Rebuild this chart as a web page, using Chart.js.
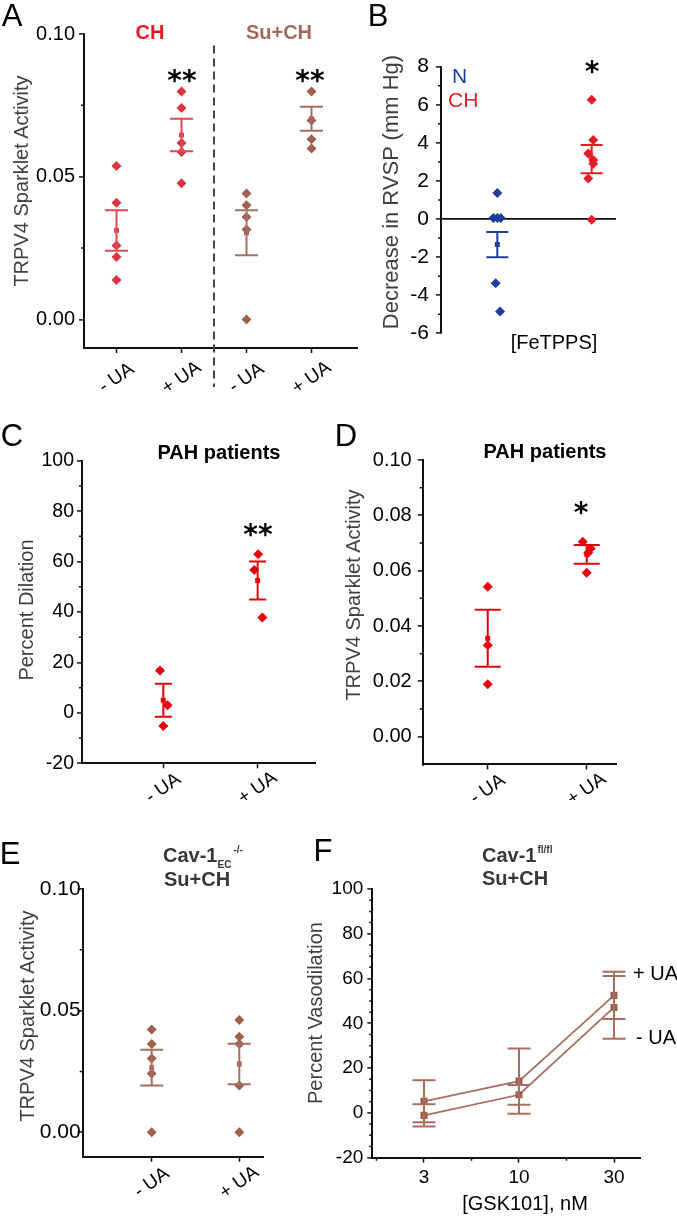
<!DOCTYPE html>
<html>
<head>
<meta charset="utf-8">
<script src="https://cdn.jsdelivr.net/npm/chart.js@4.4.1/dist/chart.umd.min.js"></script>
<style>
html, body { margin: 0; padding: 0; background: #fff; }
#fig { position: relative; width: 677px; height: 1219px; overflow: hidden; font-family: "Liberation Sans", Arial, sans-serif; color: #000; }
canvas { position: absolute; }
.t { position: absolute; white-space: nowrap; line-height: 1; transform: translate(-50%, -50%); }
.l { position: absolute; white-space: nowrap; line-height: 1; transform: translateY(-50%); }
.yt { position: absolute; white-space: nowrap; line-height: 1; transform: translate(-50%, -50%) rotate(-90deg); color: #404040; font-size: 20px; }
.letter { font-size: 31px; }
.star { font-family: "DejaVu Sans", sans-serif; font-weight: bold; font-size: 28px; }
.ttl { font-weight: bold; font-size: 20px; color: #383838; }
</style>
</head>
<body>
<div id="fig">
  <canvas id="panelA" width="362" height="395" style="left:0;top:0"></canvas>
  <canvas id="panelB" width="315" height="395" style="left:362px;top:0"></canvas>
  <canvas id="panelC" width="340" height="405" style="left:0;top:395px"></canvas>
  <canvas id="panelD" width="337" height="405" style="left:340px;top:395px"></canvas>
  <canvas id="panelE" width="320" height="419" style="left:0;top:800px"></canvas>
  <canvas id="panelF" width="357" height="419" style="left:320px;top:800px"></canvas>

  <div class="t letter" style="left:12px;top:15px">A</div>
  <div class="t letter" style="left:378px;top:15px">B</div>
  <div class="t letter" style="left:12px;top:435px">C</div>
  <div class="t letter" style="left:346px;top:435px">D</div>
  <div class="t letter" style="left:10px;top:853px">E</div>
  <div class="t letter" style="left:323px;top:850px">F</div>

  <div class="yt" style="left:21px;top:181px">TRPV4 Sparklet Activity</div>
  <div class="yt" style="left:391px;top:192px;font-size:22px">Decrease in RVSP (mm Hg)</div>
  <div class="yt" style="left:26px;top:610px">Percent Dilation</div>
  <div class="yt" style="left:353px;top:595px">TRPV4 Sparklet Activity</div>
  <div class="yt" style="left:27px;top:1016px">TRPV4 Sparklet Activity</div>
  <div class="yt" style="left:315px;top:1013px">Percent Vasodilation</div>

  <div class="t" style="left:150px;top:32px;font-weight:bold;font-size:20px;color:#e01b24">CH</div>
  <div class="t" style="left:279px;top:32px;font-weight:bold;font-size:20px;color:#a36a5c">Su+CH</div>
  <div class="t star" style="left:182px;top:81px">**</div>
  <div class="t star" style="left:310px;top:81px">**</div>

  <div class="l" style="left:452px;top:75px;font-size:21px;color:#1f3d9c">N</div>
  <div class="l" style="left:448px;top:99px;font-size:21px;color:#e51c24">CH</div>
  <div class="t star" style="left:592px;top:72px">*</div>
  <div class="t" style="left:554px;top:342px;font-size:20px">[FeTPPS]</div>

  <div class="t" style="left:219px;top:452px;font-weight:bold;font-size:20px">PAH patients</div>
  <div class="t star" style="left:258px;top:535px">**</div>
  <div class="t" style="left:545px;top:451px;font-weight:bold;font-size:20px">PAH patients</div>
  <div class="t star" style="left:581px;top:513px">*</div>

  <div class="l ttl" style="left:163px;top:855px">Cav-1<span style="font-size:10px;position:relative;top:6px">EC</span><span style="font-size:10px;position:relative;top:-9px;margin-left:2px">-/-</span></div>
  <div class="l ttl" style="left:164px;top:879px">Su+CH</div>
  <div class="l ttl" style="left:482px;top:855px">Cav-1<span style="font-size:10px;position:relative;top:-9px;margin-left:1px">fl/fl</span></div>
  <div class="l ttl" style="left:482px;top:878px">Su+CH</div>
  <div class="l" style="left:633px;top:973px;font-size:20px">+ UA</div>
  <div class="l" style="left:636px;top:1037px;font-size:20px">- UA</div>
  <div class="t" style="left:525px;top:1203px;font-size:20px">[GSK101], nM</div>
</div>

<script>
const fontFamily = '"Liberation Sans", Arial, sans-serif'
Chart.defaults.font.family = fontFamily

// A: TRPV4 sparklet activity, CH and Su+CH, -/+ UA
const aLabels = ['- UA', '+ UA', '- UA', '+ UA']
const aChMinusUA = [0.0538, 0.0409, 0.0259, 0.0219, 0.0138]
const aChPlusUA = [0.0799, 0.0741, 0.0618, 0.0587, 0.0477]
const aSuChMinusUA = [0.0441, 0.0400, 0.0359, 0.0315, 0.0]
const aSuChPlusUA = [0.0799, 0.0697, 0.0631, 0.0599]
const aMeans = [0.0312, 0.0646, 0.0304, 0.0703]
const aSems = [0.0071, 0.0057, 0.0079, 0.0042]
const aYTicks = [0, 0.05, 0.1]
const aYMinor = [0.025, 0.075]

// B: decrease in RVSP with FeTPPS
const bN = [1.37, 0.05, 0.05, 0.05, -3.37, -4.86]
const bNJitter = [0, -0.042, 0, 0.036, -0.017, 0.029]
const bCH = [6.27, 4.15, 3.44, 3.1, 2.9, 2.13, -0.04]
const bCHJitter = [0, 0.017, -0.036, 0.017, 0.017, -0.036, 0]
const bMeans = [-1.34, 3.15]
const bSems = [0.66, 0.74]
const bYTicks = [-6, -4, -2, 0, 2, 4, 6, 8]
const bYMinor = [-5, -3, -1, 1, 3, 5, 7]

// C: percent dilation, PAH patients
const cLabels = ['- UA', '+ UA']
const cMinusUA = [16.8, 3.0, -5.2]
const cMinusJitter = [-0.035, 0.045, 0]
const cPlusUA = [62.9, 56.7, 37.8]
const cPlusJitter = [0.006, -0.036, 0.05]
const cMeans = [5.0, 52.5]
const cSems = [6.5, 7.5]
const cYTicks = [-20, 0, 20, 40, 60, 80, 100]
const cYMinor = [-10, 10, 30, 50, 70, 90]

// D: TRPV4 sparklet activity, PAH patients
const dLabels = ['- UA', '+ UA']
const dMinusUA = [0.0542, 0.0331, 0.0190]
const dPlusUA = [0.0705, 0.0680, 0.0665, 0.0593]
const dPlusJitter = [-0.04, 0.04, 0.015, 0]
const dMeans = [0.0356, 0.0659]
const dSems = [0.0103, 0.0034]
const dYTicks = [0, 0.02, 0.04, 0.06, 0.08, 0.1]
const dYMinor = [0.01, 0.03, 0.05, 0.07, 0.09]

// E: Cav-1 EC-/- Su+CH
const eLabels = ['- UA', '+ UA']
const eMinusUA = [0.0423, 0.0363, 0.0303, 0.0242, 0.0]
const ePlusUA = [0.0462, 0.0393, 0.0363, 0.0193, 0.0]
const eMeans = [0.0266, 0.0281]
const eSems = [0.0073, 0.0083]
const eYTicks = [0, 0.05, 0.1]
const eYMinor = [0.025, 0.075]

// F: Cav-1 fl/fl Su+CH, GSK101 dose response
const fDoses = ['3', '10', '30']
const fPlusUA = [5.2, 14.2, 52.5]
const fPlusSem = [9.4, 14.6, 10.6]
const fMinusUA = [-1.1, 8.1, 47.1]
const fMinusSem = [5.0, 4.4, 14.0]
const fYTicks = [-20, 0, 20, 40, 60, 80, 100]
const fYMinor = [-15, -10, -5, 5, 10, 15, 25, 30, 35, 45, 50, 55, 65, 70, 75, 85, 90, 95]
const fXMinor = [-0.5, 0.5, 1.5]

const red = '#dc3540'
const redLine = '#dd4a52'
const brown = '#9e604f'
const brownLine = '#a86e60'
const blue = '#1f3d9c'
const brightRed = '#e51c24'
const pureRed = '#e6000e'
const axisColor = '#111'

const errorBars = {
    id: 'errorBars',
    afterDatasetsDraw(chart) {
        const ctx = chart.ctx
        const yScale = chart.scales.y
        chart.data.datasets.forEach((ds, i) => {
            if (!ds.sem) return
            const meta = chart.getDatasetMeta(i)
            const half = ds.capWidth / 2
            ctx.save()
            ctx.strokeStyle = ds.barColor
            ctx.lineWidth = 2
            meta.data.forEach((pt, j) => {
                const v = ds.data[j].y
                const top = yScale.getPixelForValue(v + ds.sem[j])
                const bottom = yScale.getPixelForValue(v - ds.sem[j])
                ctx.beginPath()
                ctx.moveTo(pt.x, top)
                ctx.lineTo(pt.x, bottom)
                ctx.moveTo(pt.x - half, top)
                ctx.lineTo(pt.x + half, top)
                ctx.moveTo(pt.x - half, bottom)
                ctx.lineTo(pt.x + half, bottom)
                ctx.stroke()
            })
            ctx.restore()
        })
    }
}

const minorTicks = {
    id: 'minorTicks',
    afterDraw(chart, args, opts) {
        const {ctx, chartArea, scales} = chart
        const ys = opts.y || []
        const xs = opts.x || []
        const len = opts.length || 3
        ctx.save()
        ctx.strokeStyle = axisColor
        ctx.lineWidth = 1.5
        ctx.beginPath()
        ys.forEach(v => {
            const py = scales.y.getPixelForValue(v)
            ctx.moveTo(chartArea.left, py)
            ctx.lineTo(chartArea.left - len, py)
        })
        xs.forEach(v => {
            const px = scales.x.getPixelForValue(v)
            ctx.moveTo(px, chartArea.bottom)
            ctx.lineTo(px, chartArea.bottom + len)
        })
        ctx.stroke()
        ctx.restore()
    }
}

const categoryLabels = {
    id: 'categoryLabels',
    afterDraw(chart, args, opts) {
        if (!opts.labels) return
        const {ctx, chartArea, scales} = chart
        ctx.save()
        ctx.font = `${opts.size}px ${fontFamily}`
        ctx.fillStyle = '#000'
        ctx.textAlign = 'center'
        ctx.textBaseline = 'middle'
        opts.labels.forEach((label, i) => {
            ctx.save()
            ctx.translate(scales.x.getPixelForValue(i), chartArea.bottom + opts.offset)
            ctx.rotate(-35 * Math.PI / 180)
            ctx.fillText(label, 0, 0)
            ctx.restore()
        })
        ctx.restore()
    }
}

const dividerLine = {
    id: 'dividerLine',
    afterDraw(chart, args, opts) {
        if (opts.x === undefined) return
        const {ctx, chartArea, scales} = chart
        const px = scales.x.getPixelForValue(opts.x)
        ctx.save()
        ctx.setLineDash([8, 5])
        ctx.strokeStyle = '#444'
        ctx.lineWidth = 2
        ctx.beginPath()
        ctx.moveTo(px, scales.y.getPixelForValue(opts.from))
        ctx.lineTo(px, chartArea.bottom + opts.below)
        ctx.stroke()
        ctx.restore()
    }
}

function groupPoints(values, cat, color, jitter){
    return {
        data: values.map((v, i) => ({x: cat + (jitter ? jitter[i] : 0), y: v})),
        pointStyle: 'rectRot',
        pointRadius: 5,
        backgroundColor: color,
        borderColor: color,
        borderWidth: 0
    }
}

function meanMarks(means, sems, color, capWidth){
    return {
        data: means.map((m, i) => ({x: i, y: m})),
        sem: sems,
        capWidth,
        barColor: color,
        pointStyle: 'rect',
        pointRadius: 3.5,
        backgroundColor: color,
        borderColor: color,
        borderWidth: 0
    }
}

function yAxis(cfg){
    return {
        type: 'linear',
        min: cfg.min,
        max: cfg.max,
        afterBuildTicks: scale => { scale.ticks = cfg.ticks.map(v => ({value: v})) },
        afterFit: scale => { scale.width = cfg.width },
        border: {display: true, color: axisColor, width: 2},
        grid: {
            drawOnChartArea: !!cfg.zeroLine,
            color: cfg.zeroLine ? c => (c.tick && c.tick.value === 0 ? axisColor : 'rgba(0,0,0,0)') : axisColor,
            lineWidth: 1.8,
            tickLength: 5,
            tickColor: axisColor,
            tickWidth: 1.5
        },
        ticks: {
            color: '#000',
            autoSkip: false,
            padding: cfg.padding,
            font: {size: cfg.fontSize},
            callback: cfg.format || (v => String(v))
        }
    }
}

function xAxis(cfg){
    return {
        type: 'linear',
        display: cfg.display !== false,
        min: cfg.min,
        max: cfg.max,
        afterBuildTicks: scale => { scale.ticks = cfg.cats.map((c, i) => ({value: i})) },
        afterFit: scale => { scale.height = cfg.height },
        border: {display: true, color: axisColor, width: 2},
        grid: {drawOnChartArea: false, color: axisColor, tickLength: 5, tickWidth: 1.5},
        ticks: {
            display: !!cfg.showLabels,
            color: '#000',
            autoSkip: false,
            maxRotation: 0,
            padding: 4,
            font: {size: 19},
            callback: v => cfg.cats[v]
        }
    }
}

function buildPanel(canvasId, datasets, scales, padding, pluginOpts){
    const ctx = document.getElementById(canvasId).getContext('2d')
    return new Chart(ctx, {
        type: 'scatter',
        data: {datasets},
        plugins: [errorBars, minorTicks, categoryLabels, dividerLine],
        options: {
            responsive: false,
            animation: false,
            devicePixelRatio: 1,
            layout: {padding: Object.assign({left: 0, bottom: 0}, padding)},
            plugins: Object.assign({legend: {display: false}, tooltip: {enabled: false}}, pluginOpts),
            scales
        }
    })
}

const fixed2 = v => v.toFixed(2)

// Panel A
buildPanel('panelA', [
    groupPoints(aChMinusUA, 0, red),
    groupPoints(aChPlusUA, 1, red),
    groupPoints(aSuChMinusUA, 2, brown),
    groupPoints(aSuChPlusUA, 3, brown),
    Object.assign(meanMarks(aMeans.slice(0, 2), aSems.slice(0, 2), redLine, 23), {}),
    Object.assign(meanMarks(aMeans.slice(2), aSems.slice(2), brownLine, 23), {
        data: aMeans.slice(2).map((m, i) => ({x: i + 2, y: m}))
    })
], {
    x: xAxis({min: -0.5, max: 3.7, cats: aLabels, height: 47}),
    y: yAxis({min: -0.01, max: 0.1, ticks: aYTicks, width: 84, padding: 4, fontSize: 20, format: fixed2})
}, {top: 34, right: 5}, {
    minorTicks: {y: aYMinor, length: 3},
    categoryLabels: {labels: aLabels, offset: 30, size: 19},
    dividerLine: {x: 1.5, from: 0.096, below: 39}
})

// Panel B
buildPanel('panelB', [
    groupPoints(bN, 0, blue, bNJitter),
    groupPoints(bCH, 1, brightRed, bCHJitter),
    meanMarks(bMeans.slice(0, 1), bSems.slice(0, 1), blue, 22),
    Object.assign(meanMarks(bMeans.slice(1), bSems.slice(1), brightRed, 22), {
        data: bMeans.slice(1).map(m => ({x: 1, y: m}))
    })
], {
    x: xAxis({display: false, min: -0.597, max: 1.258, cats: ['N', 'CH'], height: 0}),
    y: yAxis({min: -6, max: 8, ticks: bYTicks, width: 79, padding: 7, fontSize: 21, zeroLine: true})
}, {top: 66.7, right: 61, bottom: 61.7}, {
    minorTicks: {y: bYMinor, length: 3}
})

// Panel C
buildPanel('panelC', [
    groupPoints(cMinusUA, 0, pureRed, cMinusJitter),
    groupPoints(cPlusUA, 1, pureRed, cPlusJitter),
    meanMarks(cMeans, cSems, pureRed, 17)
], {
    x: xAxis({min: -0.862, max: 1.608, cats: cLabels, height: 36.7}),
    y: yAxis({min: -20, max: 100, ticks: cYTicks, width: 82, padding: 3, fontSize: 19.5})
}, {top: 65.7, right: 25}, {
    minorTicks: {y: cYMinor, length: 3},
    categoryLabels: {labels: cLabels, offset: 25, size: 19}
})

// Panel D
buildPanel('panelD', [
    groupPoints(dMinusUA, 0, pureRed),
    groupPoints(dPlusUA, 1, pureRed, dPlusJitter),
    meanMarks(dMeans, dSems, pureRed, 26)
], {
    x: xAxis({min: -0.657, max: 1.296, cats: dLabels, height: 35.6}),
    y: yAxis({min: -0.01, max: 0.1, ticks: dYTicks, width: 82.7, padding: 6, fontSize: 20, format: fixed2})
}, {top: 65, right: 61}, {
    minorTicks: {y: dYMinor, length: 3},
    categoryLabels: {labels: dLabels, offset: 25, size: 19}
})

// Panel E
buildPanel('panelE', [
    groupPoints(eMinusUA, 0, brown),
    groupPoints(ePlusUA, 1, brown),
    meanMarks(eMeans, eSems, brownLine, 23)
], {
    x: xAxis({min: -0.788, max: 1.274, cats: eLabels, height: 62.3}),
    y: yAxis({min: -0.01, max: 0.1, ticks: eYTicks, width: 82.7, padding: -3, fontSize: 21, format: fixed2})
}, {top: 89, right: 56.7}, {
    minorTicks: {y: eYMinor, length: 3},
    categoryLabels: {labels: eLabels, offset: 26, size: 19}
})

// Panel F
const fLine = (values, sems) => ({
    data: values.map((v, i) => ({x: i, y: v})),
    showLine: true,
    borderColor: brownLine,
    borderWidth: 1.8,
    backgroundColor: brown,
    pointStyle: 'rect',
    pointRadius: 5,
    pointBorderWidth: 0,
    sem: sems,
    capWidth: 23,
    barColor: brownLine
})

buildPanel('panelF', [
    fLine(fPlusUA, fPlusSem),
    fLine(fMinusUA, fMinusSem)
], {
    x: xAxis({min: -0.544, max: 2.281, cats: fDoses, height: 61.3, showLabels: true}),
    y: yAxis({min: -20, max: 100, ticks: fYTicks, width: 52.3, padding: 4, fontSize: 19})
}, {top: 89, right: 36.3}, {
    minorTicks: {y: fYMinor, x: fXMinor, length: 3}
})
</script>
</body>
</html>
